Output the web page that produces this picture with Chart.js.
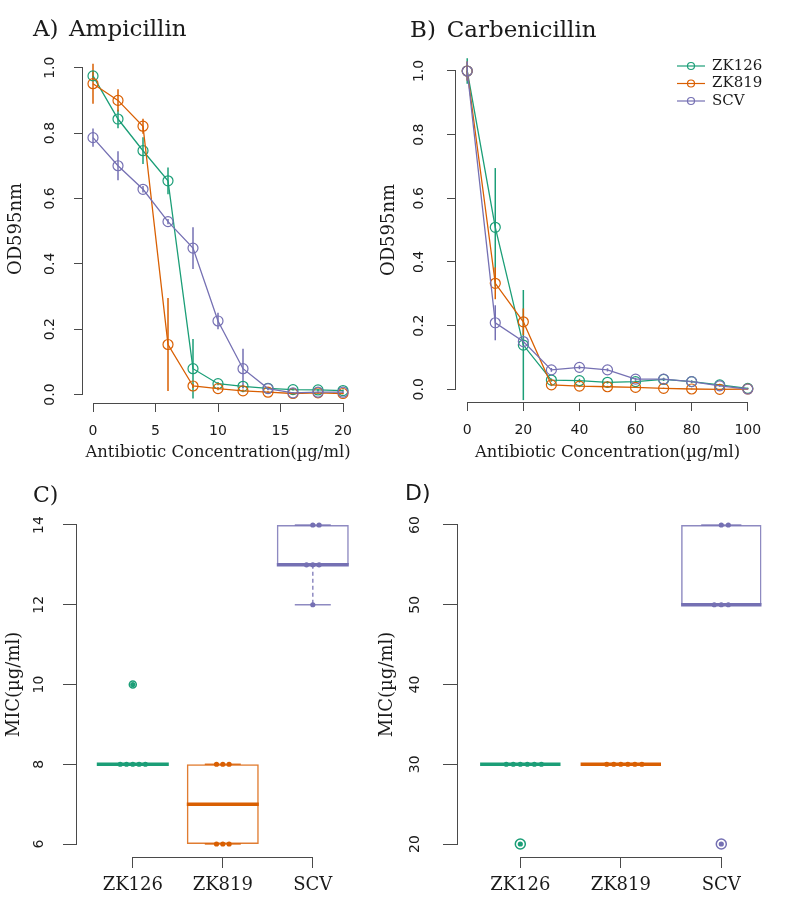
<!DOCTYPE html>
<html><head><meta charset="utf-8">
<script src="https://cdn.jsdelivr.net/npm/chart.js@4"></script>
<style>
html,body{margin:0;padding:0;background:#fff;}
body{width:800px;height:900px;position:relative;overflow:hidden;}
canvas{position:absolute;}
</style></head><body>
<canvas id="cA" width="400" height="470" style="left:0;top:0"></canvas>
<canvas id="cB" width="440" height="470" style="left:360px;top:0"></canvas>
<canvas id="cC" width="400" height="440" style="left:0;top:460px"></canvas>
<canvas id="cD" width="440" height="440" style="left:360px;top:460px"></canvas>
<script>
// ---------- data ----------
const strains = ['ZK126', 'ZK819', 'SCV'];

const ampConc = [0, 2, 4, 6, 8, 10, 12, 14, 16, 18, 20];
const ampZK126   = [0.975, 0.843, 0.746, 0.654, 0.079, 0.033, 0.025, 0.019, 0.015, 0.014, 0.012];
const ampZK126Sd = [0.015, 0.028, 0.041, 0.041, 0.091, 0.005, 0.005, 0.004, 0.003, 0.003, 0.003];
const ampZK819   = [0.951, 0.900, 0.821, 0.153, 0.026, 0.018, 0.011, 0.007, 0.003, 0.005, 0.003];
const ampZK819Sd = [0.061, 0.034, 0.023, 0.142, 0.006, 0.005, 0.004, 0.003, 0.002, 0.002, 0.002];
const ampSCV     = [0.786, 0.700, 0.628, 0.529, 0.448, 0.225, 0.079, 0.018, 0.005, 0.007, 0.007];
const ampSCVSd   = [0.028, 0.044, 0.010, 0.008, 0.064, 0.025, 0.061, 0.005, 0.003, 0.003, 0.003];

const carbConc = [0, 10, 20, 30, 40, 50, 60, 70, 80, 90, 100];
const carbZK126   = [1.000, 0.509, 0.139, 0.029, 0.027, 0.022, 0.024, 0.031, 0.024, 0.014, 0.003];
const carbZK126Sd = [0.040, 0.186, 0.173, 0.005, 0.006, 0.004, 0.004, 0.005, 0.004, 0.003, 0.002];
const carbZK819   = [1.000, 0.333, 0.212, 0.014, 0.010, 0.008, 0.006, 0.003, 0.001, 0.000, 0.001];
const carbZK819Sd = [0.030, 0.050, 0.042, 0.004, 0.003, 0.003, 0.002, 0.002, 0.001, 0.001, 0.001];
const carbSCV     = [1.000, 0.209, 0.150, 0.061, 0.069, 0.061, 0.032, 0.032, 0.024, 0.011, 0.001];
const carbSCVSd   = [0.030, 0.055, 0.010, 0.006, 0.006, 0.005, 0.004, 0.004, 0.003, 0.003, 0.001];

const micAmpZK126  = [8, 8, 8, 8, 8, 10];
const micAmpZK819  = [6, 6, 6, 8, 8, 8];
const micAmpSCV    = [12, 13, 13, 13, 14, 14];
const micCarbZK126 = [20, 30, 30, 30, 30, 30, 30];
const micCarbZK819 = [30, 30, 30, 30, 30, 30];
const micCarbSCV   = [20, 50, 50, 50, 60, 60];

const ampXTicks = [0, 5, 10, 15, 20];
const ampXTickLabels = ['0', '5', '10', '15', '20'];
const carbXTicks = [0, 20, 40, 60, 80, 100];
const carbXTickLabels = ['0', '20', '40', '60', '80', '100'];
const odTicks = [0, 0.2, 0.4, 0.6, 0.8, 1.0];
const odTickLabels = ['0.0', '0.2', '0.4', '0.6', '0.8', '1.0'];
const micAmpTicks = [6, 8, 10, 12, 14];
const micAmpTickLabels = ['6', '8', '10', '12', '14'];
const micCarbTicks = [20, 30, 40, 50, 60];
const micCarbTickLabels = ['20', '30', '40', '50', '60'];
const strainTicks = [1, 2, 3];

// ---------- styles ----------
const COLORS = ['#1B9E77', '#D95F02', '#7570B3'];
const SANS = '"DejaVu Sans", sans-serif';
const SERIF = '"DejaVu Serif", serif';
const AXIS = '#4a4a4a';
const TXT = '#1a1a1a';

function axisX(c) {
  return {
    type: 'linear', position: 'bottom', min: c.min, max: c.max, offset: false,
    afterFit: s => { s.height = c.size; },
    afterBuildTicks: s => { s.ticks = c.ticks.map(v => ({value: v})); },
    border: {display: false},
    grid: {display: true, drawOnChartArea: false, drawTicks: true, tickLength: c.tickLength, color: AXIS, lineWidth: 1, offset: false},
    ticks: {autoSkip: false, maxRotation: 0, minRotation: 0, padding: c.pad, color: TXT, font: c.font,
            callback: (v, i) => c.labels[i]},
    title: c.title ? {display: true, text: c.title, color: TXT, font: {family: SERIF, size: 16.4}, padding: 0} : {display: false}
  };
}
function axisY(c) {
  return {
    type: 'linear', position: 'left', min: c.min, max: c.max, beginAtZero: false,
    afterFit: s => { s.width = c.size; },
    afterBuildTicks: s => { s.ticks = c.ticks.map(v => ({value: v})); },
    border: {display: false},
    grid: {display: true, drawOnChartArea: false, drawTicks: true, tickLength: c.tickLength, color: AXIS, lineWidth: 1},
    ticks: {autoSkip: false, minRotation: 90, maxRotation: 90, crossAlign: 'center', padding: c.pad, color: TXT,
            font: {family: SANS, size: 14}, callback: (v, i) => c.labels[i]},
    title: {display: true, text: c.title, color: TXT, font: {family: SERIF, size: 18}, padding: {top: c.titlePad, bottom: 0}}
  };
}

// R-style axis lines spanning first..last tick
const rAxisLines = {
  id: 'rAxisLines',
  afterDraw(chart) {
    const {ctx, chartArea: ca, scales: {x, y}} = chart;
    ctx.save();
    ctx.strokeStyle = AXIS; ctx.lineWidth = 1;
    const xa = x.getPixelForValue(x.ticks[0].value), xb = x.getPixelForValue(x.ticks[x.ticks.length - 1].value);
    const ya = y.getPixelForValue(y.ticks[0].value), yb = y.getPixelForValue(y.ticks[y.ticks.length - 1].value);
    const by = Math.round(ca.bottom) + 0.5, lx = Math.round(ca.left) - 0.5;
    ctx.beginPath();
    ctx.moveTo(Math.round(xa - 0.5), by); ctx.lineTo(Math.round(xb - 0.5) + 1, by);
    ctx.moveTo(lx, Math.round(ya - 0.5) + 1); ctx.lineTo(lx, Math.round(yb - 0.5));
    ctx.stroke();
    ctx.restore();
  }
};

const errorBars = {
  id: 'errorBars',
  beforeDatasetsDraw(chart) {
    const {ctx, scales: {x, y}} = chart;
    ctx.save(); ctx.lineWidth = 1.5;
    chart.data.datasets.forEach(ds => {
      if (!ds.sd) return;
      ctx.strokeStyle = ds.borderColor;
      ds.data.forEach((p, i) => {
        const px = x.getPixelForValue(p.x);
        ctx.beginPath();
        ctx.moveTo(px, y.getPixelForValue(p.y + ds.sd[i]));
        ctx.lineTo(px, y.getPixelForValue(p.y - ds.sd[i]));
        ctx.stroke();
      });
    });
    ctx.restore();
  }
};

function titlePlugin(parts) {
  return {
    id: 'panelTitle',
    afterDraw(chart) {
      const ctx = chart.ctx;
      ctx.save(); ctx.fillStyle = TXT; ctx.textBaseline = 'alphabetic'; ctx.textAlign = 'left';
      parts.forEach(p => { ctx.font = p.font; ctx.fillText(p.text, p.x, p.y); });
      ctx.restore();
    }
  };
}

function legendPlugin(o) {
  return {
    id: 'rLegend',
    afterDraw(chart) {
      const ctx = chart.ctx;
      ctx.save();
      chart.data.datasets.forEach((ds, i) => {
        const yy = o.y + i * o.step;
        ctx.strokeStyle = ds.borderColor; ctx.lineWidth = 1.2;
        ctx.beginPath(); ctx.moveTo(o.x, yy); ctx.lineTo(o.x + o.len, yy); ctx.stroke();
        ctx.beginPath(); ctx.arc(o.x + o.len / 2, yy, o.r, 0, Math.PI * 2); ctx.stroke();
        ctx.fillStyle = TXT; ctx.font = '15px ' + SERIF; ctx.textBaseline = 'middle'; ctx.textAlign = 'left';
        ctx.fillText(ds.label, o.tx, yy);
      });
      ctx.restore();
    }
  };
}

function curveSet(label, xs, ys, sd, i) {
  return {
    type: 'line', label: label, data: xs.map((x, k) => ({x: x, y: ys[k]})), sd: sd,
    borderColor: COLORS[i], borderWidth: 1.3, tension: 0, fill: false,
    pointRadius: 5, pointBorderWidth: 1.2, pointBorderColor: COLORS[i], pointBackgroundColor: 'rgba(0,0,0,0)',
    order: 3 - i, clip: false
  };
}

const baseOpts = {
  responsive: false, animation: false, events: [], devicePixelRatio: 1,
  plugins: {legend: {display: false}, tooltip: {enabled: false}, title: {display: false}}
};

// ---------- Panel A ----------
new Chart(document.getElementById('cA'), {
  type: 'scatter',
  data: {datasets: [
    curveSet('ZK126', ampConc, ampZK126, ampZK126Sd, 0),
    curveSet('ZK819', ampConc, ampZK819, ampZK819Sd, 1),
    curveSet('SCV', ampConc, ampSCV, ampSCVSd, 2)
  ]},
  options: Object.assign({}, baseOpts, {
    layout: {padding: {left: 0, top: 55, right: 47, bottom: 7.7}},
    scales: {
      x: axisX({min: -0.8, max: 20.8, size: 59.3, tickLength: 9, pad: 11, ticks: ampXTicks, labels: ampXTickLabels,
                font: {family: SANS, size: 14}, title: 'Antibiotic Concentration(µg/ml)'}),
      y: axisY({min: -0.026, max: 1.0389, size: 83, tickLength: 9, pad: 13, titlePad: 5.2, ticks: odTicks, labels: odTickLabels, title: 'OD595nm'})
    }
  }),
  plugins: [errorBars, rAxisLines, titlePlugin([
    {text: 'A)', x: 33, y: 36, font: '23px ' + SERIF},
    {text: 'Ampicillin', x: 69, y: 36, font: '23px ' + SERIF}
  ])]
});

// ---------- Panel B ----------
new Chart(document.getElementById('cB'), {
  type: 'scatter',
  data: {datasets: [
    curveSet('ZK126', carbConc, carbZK126, carbZK126Sd, 0),
    curveSet('ZK819', carbConc, carbZK819, carbZK819Sd, 1),
    curveSet('SCV', carbConc, carbSCV, carbSCVSd, 2)
  ]},
  options: Object.assign({}, baseOpts, {
    layout: {padding: {left: 0, top: 58, right: 41, bottom: 7.7}},
    scales: {
      x: axisX({min: -4, max: 104, size: 60.3, tickLength: 9, pad: 11, ticks: carbXTicks, labels: carbXTickLabels,
                font: {family: SANS, size: 14}, title: 'Antibiotic Concentration(µg/ml)'}),
      y: axisY({min: -0.0399, max: 1.0408, size: 96, tickLength: 9, pad: 16.4, titlePad: 18.7, ticks: odTicks, labels: odTickLabels, title: 'OD595nm'})
    }
  }),
  plugins: [errorBars, rAxisLines, legendPlugin({x: 317, len: 28, y: 66, step: 17.5, r: 3.5, tx: 352}), titlePlugin([
    {text: 'B)', x: 50, y: 36.5, font: '23px ' + SERIF},
    {text: 'Carbenicillin', x: 86.7, y: 36.5, font: '23px ' + SERIF}
  ])]
});

// ---------- box plots ----------
function boxStats(vals) {
  const x = [...vals].sort((a, b) => a - b), n = x.length;
  const n4 = Math.floor((n + 3) / 2) / 2;
  const d = [1, n4, (n + 1) / 2, n + 1 - n4, n];
  const f = d.map(v => 0.5 * (x[Math.floor(v) - 1] + x[Math.ceil(v) - 1]));
  const iqr = f[3] - f[1];
  const loF = f[1] - 1.5 * iqr, hiF = f[3] + 1.5 * iqr;
  const inside = x.filter(v => v >= loF && v <= hiF);
  return {q1: f[1], med: f[2], q3: f[3], lo: Math.min(...inside), hi: Math.max(...inside),
          out: x.filter(v => v < loF || v > hiF)};
}
function swarm(values, center, step) {
  const seen = {};
  return values.map(v => {
    const k = seen[v] = (seen[v] || 0) + 1;
    const m = k - 1;
    const off = m === 0 ? 0 : (m % 2 === 1 ? (m + 1) / 2 : -m / 2);
    return {x: center + off * step, y: v};
  });
}
function boxDatasets(groups, outR) {
  const stats = groups.map(boxStats);
  const ds = [{
    type: 'bar', label: 'box', data: stats.map((s, i) => ({x: i + 1, y: [s.q1, s.q3]})),
    backgroundColor: 'rgba(0,0,0,0)', borderColor: COLORS.map(c => c + 'D0'), borderWidth: 1.5,
    borderSkipped: false, barPercentage: 0.8, categoryPercentage: 1, order: 6
  }];
  stats.forEach((s, i) => {
    const c = COLORS[i], cx = i + 1;
    const seg = (pts, w, dash, col, ord) => ({type: 'line', data: pts, borderColor: col, borderWidth: w,
      borderDash: dash, pointRadius: 0, tension: 0, fill: false, order: ord});
    ds.push(seg([{x: cx, y: s.q1}, {x: cx, y: s.lo}], 1.5, [4, 3], c + 'D0', 5));
    ds.push(seg([{x: cx, y: s.q3}, {x: cx, y: s.hi}], 1.5, [4, 3], c + 'D0', 5));
    ds.push(seg([{x: cx - 0.2, y: s.lo}, {x: cx + 0.2, y: s.lo}], 1.5, [], c + 'D0', 5));
    ds.push(seg([{x: cx - 0.2, y: s.hi}, {x: cx + 0.2, y: s.hi}], 1.5, [], c + 'D0', 5));
    ds.push(seg([{x: cx - 0.4, y: s.med}, {x: cx + 0.4, y: s.med}], 3.5, [], c, 4));
    if (s.out.length) ds.push({type: 'scatter', data: s.out.map(v => ({x: cx, y: v})), pointRadius: outR,
      pointBorderWidth: 1.5, pointBorderColor: c, pointBackgroundColor: 'rgba(0,0,0,0)', order: 3});
    ds.push({type: 'scatter', data: swarm(groups[i], cx, 0.07), pointRadius: 2.6, pointBorderWidth: 0,
      pointBackgroundColor: c, order: 1});
  });
  return ds;
}

// ---------- Panel C ----------
new Chart(document.getElementById('cC'), {
  type: 'scatter',
  data: {datasets: boxDatasets([micAmpZK126, micAmpZK819, micAmpSCV], 3.5)},
  options: Object.assign({}, baseOpts, {
    layout: {padding: {left: 0, top: 52, right: 31.4, bottom: 0}},
    scales: {
      x: axisX({min: 0.38, max: 3.62, size: 43, tickLength: 11, pad: 7, ticks: strainTicks, labels: strains,
                font: {family: SERIF, size: 18}}),
      y: axisY({min: 5.674, max: 14.326, size: 77, tickLength: 14, pad: 15.1, titlePad: 3.7, ticks: micAmpTicks, labels: micAmpTickLabels, title: 'MIC(µg/ml)'})
    }
  }),
  plugins: [rAxisLines, titlePlugin([{text: 'C)', x: 33, y: 41.7, font: '22px ' + SERIF}])]
});

// ---------- Panel D ----------
new Chart(document.getElementById('cD'), {
  type: 'scatter',
  data: {datasets: boxDatasets([micCarbZK126, micCarbZK819, micCarbSCV], 5)},
  options: Object.assign({}, baseOpts, {
    layout: {padding: {left: 0, top: 52, right: 16.4, bottom: 0}},
    scales: {
      x: axisX({min: 0.38, max: 3.62, size: 43, tickLength: 11, pad: 7, ticks: strainTicks, labels: strains,
                font: {family: SERIF, size: 18}}),
      y: axisY({min: 18.37, max: 61.63, size: 98, tickLength: 15, pad: 18.6, titlePad: 16.7, ticks: micCarbTicks, labels: micCarbTickLabels, title: 'MIC(µg/ml)'})
    }
  }),
  plugins: [rAxisLines, titlePlugin([{text: 'D)', x: 45, y: 40, font: '22px ' + SANS}])]
});
</script>
</body></html>
